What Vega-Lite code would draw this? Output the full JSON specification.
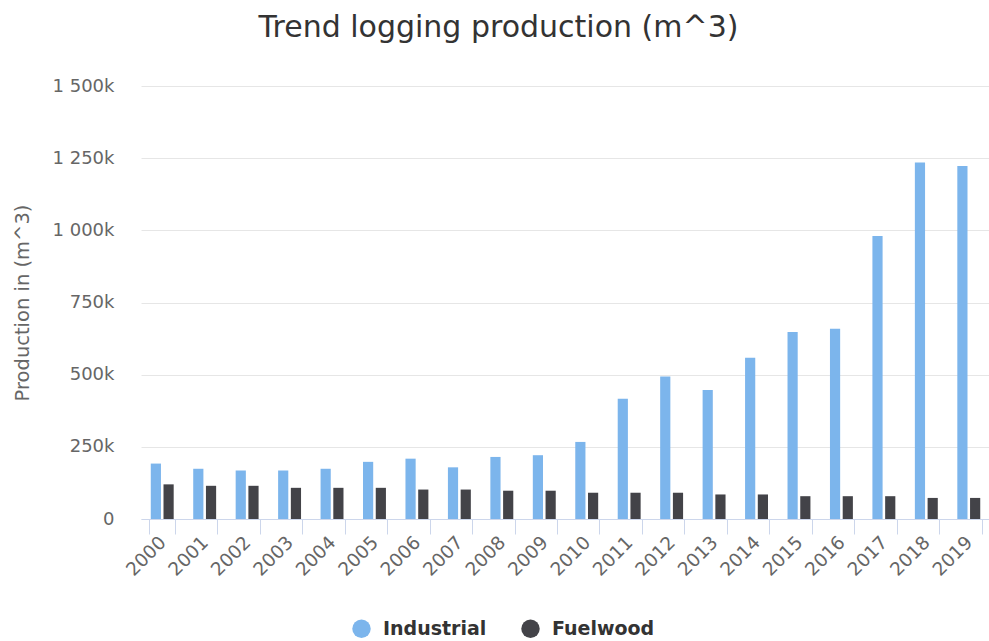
{
  "$schema": "https://vega.github.io/schema/vega-lite/v6.json",
  "autosize": "none",
  "width": 849,
  "height": 433,
  "padding": {"left": 141, "top": 86, "right": 0, "bottom": 122},
  "background": "white",
  "title": {
    "text": "Trend logging production (m^3)",
    "fontSize": 30,
    "font": "DejaVu Sans",
    "fontWeight": "normal",
    "color": "#333333",
    "dx": -67,
    "offset": 34
  },
  "data": {
    "values": [
      {"year": "2000", "type": "Industrial", "value": 192000},
      {"year": "2001", "type": "Industrial", "value": 174000},
      {"year": "2002", "type": "Industrial", "value": 168000},
      {"year": "2003", "type": "Industrial", "value": 168000},
      {"year": "2004", "type": "Industrial", "value": 174000},
      {"year": "2005", "type": "Industrial", "value": 198000},
      {"year": "2006", "type": "Industrial", "value": 209000},
      {"year": "2007", "type": "Industrial", "value": 179000},
      {"year": "2008", "type": "Industrial", "value": 215000},
      {"year": "2009", "type": "Industrial", "value": 221000},
      {"year": "2010", "type": "Industrial", "value": 267000},
      {"year": "2011", "type": "Industrial", "value": 417000},
      {"year": "2012", "type": "Industrial", "value": 494000},
      {"year": "2013", "type": "Industrial", "value": 447000},
      {"year": "2014", "type": "Industrial", "value": 559000},
      {"year": "2015", "type": "Industrial", "value": 648000},
      {"year": "2016", "type": "Industrial", "value": 659000},
      {"year": "2017", "type": "Industrial", "value": 980000},
      {"year": "2018", "type": "Industrial", "value": 1235000},
      {"year": "2019", "type": "Industrial", "value": 1223000},
      {"year": "2000", "type": "Fuelwood", "value": 120000},
      {"year": "2001", "type": "Fuelwood", "value": 115000},
      {"year": "2002", "type": "Fuelwood", "value": 115000},
      {"year": "2003", "type": "Fuelwood", "value": 108000},
      {"year": "2004", "type": "Fuelwood", "value": 108000},
      {"year": "2005", "type": "Fuelwood", "value": 108000},
      {"year": "2006", "type": "Fuelwood", "value": 102000},
      {"year": "2007", "type": "Fuelwood", "value": 102000},
      {"year": "2008", "type": "Fuelwood", "value": 98000},
      {"year": "2009", "type": "Fuelwood", "value": 98000},
      {"year": "2010", "type": "Fuelwood", "value": 91000},
      {"year": "2011", "type": "Fuelwood", "value": 91000},
      {"year": "2012", "type": "Fuelwood", "value": 91000},
      {"year": "2013", "type": "Fuelwood", "value": 85000},
      {"year": "2014", "type": "Fuelwood", "value": 85000},
      {"year": "2015", "type": "Fuelwood", "value": 79000},
      {"year": "2016", "type": "Fuelwood", "value": 79000},
      {"year": "2017", "type": "Fuelwood", "value": 79000},
      {"year": "2018", "type": "Fuelwood", "value": 73000},
      {"year": "2019", "type": "Fuelwood", "value": 73000}
    ]
  },
  "mark": {"type": "bar"},
  "encoding": {
    "x": {
      "field": "year",
      "type": "nominal",
      "scale": {"paddingInner": 0.4, "paddingOuter": 0.2},
      "axis": {
        "title": null,
        "labelAngle": -45,
        "labelAlign": "right",
        "labelBaseline": "middle",
        "labelFontSize": 18.5,
        "labelFont": "DejaVu Sans",
        "labelColor": "#666666",
        "labelPadding": 5,
        "domainColor": "#ccd6eb",
        "tickColor": "#ccd6eb",
        "tickSize": 15,
        "tickBand": "extent",
        "grid": false
      }
    },
    "xOffset": {
      "field": "type",
      "sort": ["Industrial", "Fuelwood"],
      "scale": {"paddingInner": 0.2, "paddingOuter": 0.1}
    },
    "y": {
      "field": "value",
      "type": "quantitative",
      "scale": {"domain": [0, 1500000]},
      "axis": {
        "title": "Production in (m^3)",
        "titleFontSize": 19.5,
        "titleFont": "DejaVu Sans",
        "titleFontWeight": "normal",
        "titleColor": "#666666",
        "titlePadding": 20,
        "values": [0, 250000, 500000, 750000, 1000000, 1250000, 1500000],
        "labelExpr": "datum.value == 0 ? '0' : replace(format(datum.value / 1000, ',d'), ',', ' ') + 'k'",
        "labelFontSize": 18,
        "labelFont": "DejaVu Sans",
        "labelColor": "#666666",
        "labelPadding": 27,
        "domain": false,
        "ticks": false,
        "gridColor": "#e6e6e6"
      }
    },
    "color": {
      "field": "type",
      "type": "nominal",
      "sort": ["Industrial", "Fuelwood"],
      "scale": {"domain": ["Industrial", "Fuelwood"], "range": ["#7cb5ec", "#434348"]},
      "legend": {
        "title": null,
        "orient": "none",
        "direction": "horizontal",
        "legendX": 211,
        "legendY": 533,
        "symbolType": "circle",
        "symbolSize": 340,
        "symbolStrokeWidth": 0,
        "labelFontSize": 19,
        "labelFont": "DejaVu Sans",
        "labelFontWeight": "bold",
        "labelColor": "#333333",
        "columnPadding": 34,
        "labelOffset": 12
      }
    }
  },
  "config": {"view": {"stroke": null}}
}
